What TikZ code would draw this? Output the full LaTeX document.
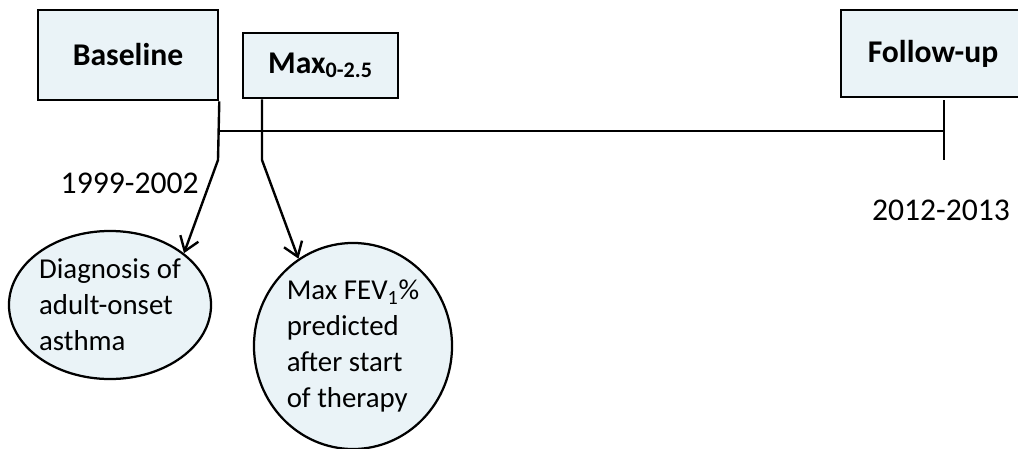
\documentclass[tikz,border=0pt]{standalone}
\usepackage{fontspec}
\setmainfont{Carlito}
\usepackage{xcolor}
\definecolor{cFill}{HTML}{EAF3F7}
\definecolor{cLine}{HTML}{000000}
\usepackage{tikz}
\usetikzlibrary{positioning,arrows.meta,shapes.geometric,calc}
\tikzset{
  node-box/.style={draw=cLine,line width=1.8pt,fill=cFill,
    align=center,font=\fontsize{22.5}{26}\selectfont\bfseries},
  node-oval/.style={draw=cLine,line width=1.6pt,fill=cFill,ellipse,
    inner sep=0pt,align=left,font=\fontsize{20.5}{25.5}\selectfont},
  node-year/.style={font=\fontsize{22.5}{26}\selectfont,inner sep=0pt},
  timeline/.style={draw=cLine,line width=1.8pt},
  arrow/.style={-{Straight Barb[length=3.4mm,width=4.8mm]},line width=1.7pt,draw=cLine},
}

\begin{document}
\begin{tikzpicture}[x=0.025cm,y=-0.025cm]
  \useasboundingbox (0,0) rectangle (1018,448);
  % boxes above the time line
  \node[node-box,minimum width=4.5cm,minimum height=2.25cm]     (baseline) at (128,55)  {Baseline};
  \node[node-box,minimum width=3.875cm,minimum height=1.625cm]  (max)      at (320.5,65.5) {Max\textsubscript{0-2.5}};
  \node[node-box,minimum width=4.6cm,minimum height=2.175cm]    (followup) at (933,53.5) {Follow-up};
  % ovals below
  \node[node-oval,minimum width=5.05cm,minimum height=3.7cm]  (diag)   at (110,305)
    {Diagnosis of\\adult-onset\\asthma};
  \node[node-oval,minimum width=4.95cm,minimum height=5.15cm] (maxfev) at (353,346)
    {Max FEV\textsubscript{1}\%\\predicted\\after start\\of therapy};
  % years
  \node[node-year,anchor=east] (year-a) at (199,183) {1999-2002};
  \node[node-year]             (year-b) at (941,210) {2012-2013};
  % time line
  \coordinate (tl-start) at (218,131);
  \coordinate (tl-end)   at (944,131);
  \coordinate (bknee)    at (218,160);
  \coordinate (mknee)    at (262,160);
  \coordinate (ftop)     at (944,100);
  \coordinate (fbot)     at (944,160);
  \draw[timeline] (tl-start) -- (tl-end);
  \draw[timeline] (ftop) -- (fbot);
  \draw[arrow] (baseline.south east) -- (bknee) -- (diag.35);
  \draw[arrow] (max.south -| mknee) -- (mknee) -- (maxfev.122);
\end{tikzpicture}
\end{document}
